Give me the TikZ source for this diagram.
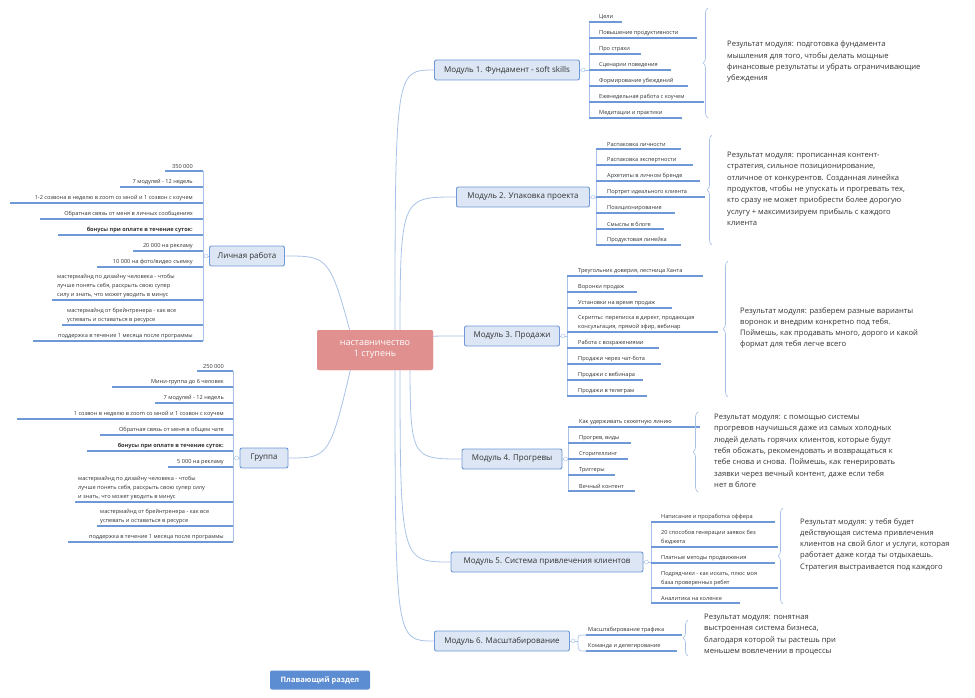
\documentclass[tikz,border=0pt]{standalone}
\usepackage{fontspec}
\setmainfont{Open Sans}
\usetikzlibrary{decorations.pathreplacing}
\definecolor{bfill}{HTML}{DCE6F4}
\definecolor{bdraw}{HTML}{6E98D6}
\definecolor{lline}{HTML}{A9C2E8}
\definecolor{txt}{HTML}{333333}
\definecolor{cfill}{HTML}{E0908F}
\definecolor{ffill}{HTML}{5C8CD2}
\tikzset{
 mod/.style={draw=bdraw,fill=bfill,rounded corners=2pt,line width=0.9pt,text=txt,font=\fontsize{8}{10}\selectfont,inner xsep=6pt,minimum height=20pt},
 leaf/.style={inner sep=0pt,text=txt,font=\fontsize{5.6}{9}\selectfont,anchor=south west},
 leafl/.style={inner sep=0pt,text=txt,font=\fontsize{5.6}{9}\selectfont,anchor=south east,align=right},
 res/.style={inner sep=0pt,text=txt,font=\fontsize{7.6}{11.3}\selectfont,anchor=north west,align=left},
 ul/.style={draw=bdraw,line width=1.3pt},
 bar/.style={draw=lline,line width=0.7pt},
 conn/.style={draw=lline,line width=0.8pt},
 br/.style={draw=lline,line width=0.7pt,decorate,decoration={brace,amplitude=5pt,mirror}},
 knob/.style={draw=lline,fill=white,circle,inner sep=0pt,minimum size=4pt}
}
\newcommand\lfR[5]{% bar x, y, text x, end x, text
 \node[leaf,align=left] at (#3,#2-2) {#5};
 \draw[ul] (#1,#2) -- (#4,#2);}
\newcommand\lfL[5]{% bar x, y, text right x, left x, text
 \node[leafl] at (#3,#2-2) {#5};
 \draw[ul] (#1,#2) -- (#4,#2);}
\begin{document}
\begin{tikzpicture}[x=1pt,y=-1pt]
\useasboundingbox (0,0) rectangle (975,698);
% central
\node[fill=cfill,rounded corners=2pt,text=white,minimum width=116pt,minimum height=40pt,align=center,font=\fontsize{9}{11}\selectfont] (c) at (375,350) {наставничество\\1 ступень};
% modules
\node[mod,minimum width=145pt] (m1) at (507,70) {Модуль 1. Фундамент - soft skills};
\node[mod,minimum width=133pt] (m2) at (523,197) {Модуль 2. Упаковка проекта};
\node[mod,minimum width=95pt] (m3) at (512,336) {Модуль 3. Продажи};
\node[mod,minimum width=100pt] (m4) at (512,459) {Модуль 4. Прогревы};
\node[mod,minimum width=192pt] (m5) at (547,562) {Модуль 5. Система привлечения клиентов};
\node[mod,minimum width=135pt] (m6) at (502,641) {Модуль 6. Масштабирование};
\node[mod,minimum width=75pt] (lp) at (247,256) {Личная работа};
\node[mod,minimum width=48pt] (gr) at (264,458) {Группа};
\node[fill=ffill,rounded corners=2pt,text=white,minimum width=100pt,minimum height=19pt,font=\bfseries\fontsize{7.5}{9}\selectfont] (fl) at (320,680) {Плавающий раздел};
% central connectors
\foreach \m/\sx in {m1/395,m2/400,m3/410,m4/410,m5/400,m6/395}
 \draw[conn] (c.center) ++(\sx-375,0) .. controls (\sx,0 |- \m.west) .. (\m.west);
\draw[conn] (c.center) ++(-20,0) .. controls (330,256) .. (lp.east);
\draw[conn] (c.center) ++(-20,0) .. controls (330,458) .. (gr.east);
\node[fill=cfill,rounded corners=2pt,text=white,minimum width=116pt,minimum height=40pt,align=center,font=\fontsize{9}{11}\selectfont] at (c) {наставничество\\1 ступень};
% M1
\draw[bar] (m1.east) -- (589,70); \draw[bar] (589,22) -- (589,118);
\lfR{589}{22}{599}{622}{Цели}
\lfR{589}{38}{599}{697}{Повышение продуктивности}
\lfR{589}{54}{599}{641}{Про страхи}
\lfR{589}{70}{599}{671}{Сценарии поведения}
\lfR{589}{86}{599}{688}{Формирование убеждений}
\lfR{589}{102}{599}{704}{Еженедельная работа с коучем}
\lfR{589}{118}{599}{682}{Медитации и практики}
\node[knob] at ([xshift=3pt]m1.east) {};
\draw[br] (708,8) -- (708,118);
\node[res] at (727,41) {Результат модуля: подготовка фундамента\\мышления для того, чтобы делать мощные\\финансовые результаты и убрать ограничивающие\\убеждения};
% M2
\draw[bar] (m2.east) -- (596,197); \draw[bar] (596,149) -- (596,245);
\lfR{596}{149}{607}{681}{Распаковка личности}
\lfR{596}{165}{607}{693}{Распаковка экспертности}
\lfR{596}{181}{607}{700}{Архетипы в личном бренде}
\lfR{596}{197}{607}{705}{Портрет идеального клиента}
\lfR{596}{213}{607}{675}{Позиционирование}
\lfR{596}{229}{607}{664}{Смыслы в блоге}
\lfR{596}{245}{607}{681}{Продуктовая линейка}
\node[knob] at ([xshift=3pt]m2.east) {};
\draw[br] (712,135) -- (712,245);
\node[res] at (727,152) {Результат модуля: прописанная контент-\\стратегия, сильное позиционирование,\\отличное от конкурентов. Созданная линейка\\продуктов, чтобы не упускать и прогревать тех,\\кто сразу не может приобрести более дорогую\\услугу + максимизируем прибыль с каждого\\клиента};
% M3
\draw[bar] (m3.east) -- (567,336); \draw[bar] (567,276) -- (567,396);
\lfR{567}{276}{578}{703}{Треугольник доверия, лестница Ханта}
\lfR{567}{292}{578}{637}{Воронки продаж}
\lfR{567}{308}{578}{672}{Установки на время продаж}
\lfR{567}{332}{578}{718}{Скрипты: переписка в директ, продающая\\консультация, прямой эфир, вебинар}
\lfR{567}{348}{578}{659}{Работа с возражениями}
\lfR{567}{364}{578}{661}{Продажи через чат-бота}
\lfR{567}{380}{578}{643}{Продажи с вебинара}
\lfR{567}{396}{578}{647}{Продажи в телеграм}
\node[knob] at ([xshift=3pt]m3.east) {};
\draw[br] (728,261) -- (728,397);
\node[res] at (740,307) {Результат модуля: разберем разные варианты\\воронок и внедрим конкретно под тебя.\\Поймешь, как продавать много, дорого и какой\\формат для тебя легче всего};
% M4
\draw[bar] (m4.east) -- (568,459); \draw[bar] (568,427) -- (568,491);
\lfR{568}{427}{579}{700}{Как удерживать сюжетную линию}
\lfR{568}{443}{579}{631}{Прогрев, виды}
\lfR{568}{459}{579}{628}{Сторителлинг}
\lfR{568}{475}{579}{615}{Триггеры}
\lfR{568}{491}{579}{635}{Вечный контент}
\node[knob] at ([xshift=3pt]m4.east) {};
\draw[br] (698,412) -- (698,492);
\node[res] at (714,414) {Результат модуля: с помощью системы\\прогревов научишься даже из самых холодных\\людей делать горячих клиентов, которые будут\\тебя обожать, рекомендовать и возвращаться к\\тебе снова и снова. Поймешь, как генерировать\\заявки через вечный контент, даже если тебя\\нет в блоге};
% M5
\draw[bar] (m5.east) -- (651,562); \draw[bar] (651,522) -- (651,603);
\lfR{651}{522}{661}{775}{Написание и проработка оффера}
\lfR{651}{547}{661}{778}{20 способов генерации заявок без\\бюджета}
\lfR{651}{563}{661}{775}{Платные методы продвижения}
\lfR{651}{588}{661}{778}{Подрядчики - как искать, плюс моя\\база проверенных ребят}
\lfR{651}{603}{661}{740}{Аналитика на коленке}
\node[knob] at ([xshift=3pt]m5.east) {};
\draw[br] (783,508) -- (783,604);
\node[res] at (800,518) {Результат модуля: у тебя будет\\действующая система привлечения\\клиентов на свой блог и услуги, которая\\работает даже когда ты отдыхаешь.\\Стратегия выстраивается под каждого};
% M6
\draw[bar] (m6.east) -- (578,641);
\draw[bar] (578,641) .. controls (578,635) .. (586,635);
\draw[bar] (578,641) .. controls (578,651) .. (586,651);
\node[leaf] at (588,633) {Масштабирование трафика};
\draw[ul] (586,635) -- (682,635);
\node[leaf] at (588,649) {Команда и делегирование};
\draw[ul] (586,651) -- (677,651);
\node[knob] at ([xshift=3pt]m6.east) {};
\draw[br] (688,620) -- (688,656);
\node[res] at (704,614) {Результат модуля: понятная\\выстроенная система бизнеса,\\благодаря которой ты растешь при\\меньшем вовлечении в процессы};
% Личная работа
\draw[bar] (lp.west) -- (203,256); \draw[bar] (203,171) -- (203,341);
\lfL{203}{171}{193}{165}{350 000}
\lfL{203}{187}{193}{120}{7 модулей - 12 недель}
\lfL{203}{203}{193}{10}{1-2 созвона в неделю в zoom со мной и 1 созвон с коучем}
\lfL{203}{219}{193}{40}{Обратная связь от меня в личных сообщениях}
\lfL{203}{235}{193}{58}{\bfseries бонусы при оплате в течение суток:}
\lfL{203}{251}{193}{133}{20 000 на рекламу}
\lfL{203}{267}{193}{97}{10 000 на фото/видео съемку}
\node[leaf,align=left] at (57,298) {мастермайнд по дизайну человека - чтобы\\лучше понять себя, раскрыть свою супер\\силу и знать, что может уводить в минус};
\draw[ul] (203,300) -- (52,300);
\node[leaf,align=left] at (67,323) {мастермайнд от брейнтренера - как все\\успевать и оставаться в ресурсе};
\draw[ul] (203,325) -- (62,325);
\lfL{203}{341}{193}{33}{поддержка в течение 1 месяца после программы}
\node[knob] at ([xshift=-3pt]lp.west) {};
% Группа
\draw[bar] (gr.west) -- (233,458); \draw[bar] (233,371) -- (233,542);
\lfL{233}{371}{224}{197}{250 000}
\lfL{233}{387}{224}{112}{Мини-группа до 6 человек}
\lfL{233}{403}{224}{155}{7 модулей - 12 недель}
\lfL{233}{419}{224}{17}{1 созвон в неделю в zoom со мной и 1 созвон с коучем}
\lfL{233}{435}{224}{100}{Обратная связь от меня в общем чате}
\lfL{233}{451}{224}{87}{\bfseries бонусы при оплате в течение суток:}
\lfL{233}{467}{224}{168}{5 000 на рекламу}
\node[leaf,align=left] at (78,500) {мастермайнд по дизайну человека - чтобы\\лучше понять себя, раскрыть свою супер силу\\и знать, что может уводить в минус};
\draw[ul] (233,502) -- (75,502);
\node[leaf,align=left] at (100,524) {мастермайнд от брейнтренера - как все\\успевать и оставаться в ресурсе};
\draw[ul] (233,526) -- (97,526);
\lfL{233}{542}{224}{68}{поддержка в течение 1 месяца после программы}
\node[knob] at ([xshift=-3pt]gr.west) {};
\end{tikzpicture}
\end{document}
